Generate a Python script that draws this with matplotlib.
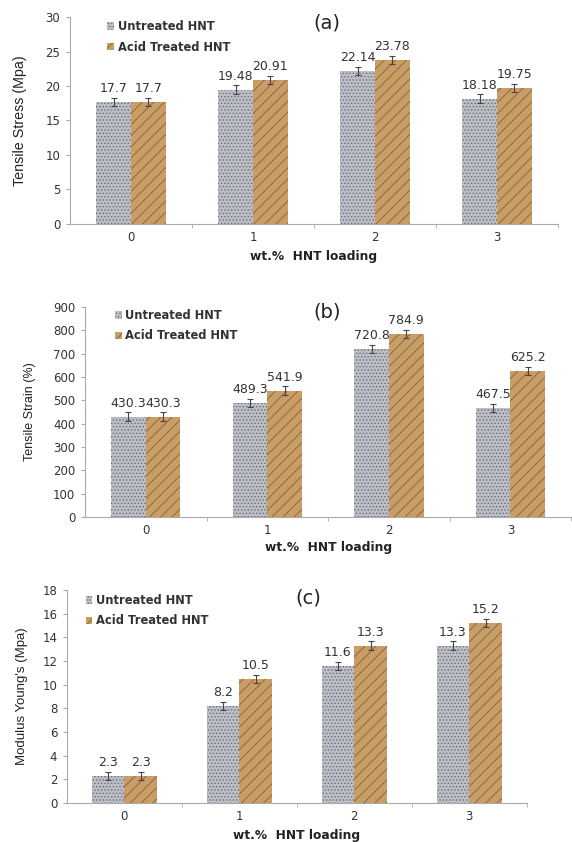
import matplotlib
matplotlib.use("Agg")
import matplotlib.pyplot as plt
from matplotlib.patches import Patch
import numpy as np

categories = ["0", "1", "2", "3"]
series_names = ["Untreated HNT", "Acid Treated HNT"]

stress_untreated = [17.7, 19.48, 22.14, 18.18]
stress_acid = [17.7, 20.91, 23.78, 19.75]
stress_err_untreated = [0.6, 0.6, 0.6, 0.6]
stress_err_acid = [0.6, 0.6, 0.6, 0.6]

strain_untreated = [430.3, 489.3, 720.8, 467.5]
strain_acid = [430.3, 541.9, 784.9, 625.2]
strain_err_untreated = [18, 18, 18, 18]
strain_err_acid = [18, 18, 18, 18]

modulus_untreated = [2.3, 8.2, 11.6, 13.3]
modulus_acid = [2.3, 10.5, 13.3, 15.2]
modulus_err_untreated = [0.35, 0.35, 0.35, 0.35]
modulus_err_acid = [0.35, 0.35, 0.35, 0.35]

plt.rcParams['hatch.linewidth'] = 0.6

GRAY_FC = '#bcbfc5'
GRAY_HC = '#6a6d75'
BROWN_FC = '#c99d66'
BROWN_HC = '#85603a'

panels = [
    dict(pos=[0.1224, 0.734, 0.853, 0.2458], u=stress_untreated, a=stress_acid,
         eu=stress_err_untreated, ea=stress_err_acid, ylim=30, step=5,
         ylabel="Tensile Stress (Mpa)", title="(a)", tpos=(0.527, 0.972),
         leg=(0.055, 1.035), fmt="{:g}", ylfs=10.3, ylpad=13, xly=-0.158),
    dict(pos=[0.1486, 0.386, 0.85, 0.2494], u=strain_untreated, a=strain_acid,
         eu=strain_err_untreated, ea=strain_err_acid, ylim=900, step=100,
         ylabel="Tensile Strain (%)", title="(b)", tpos=(0.498, 0.975),
         leg=(0.04, 1.04), fmt="{:.1f}", ylfs=9, ylpad=12, xly=-0.145),
    dict(pos=[0.117, 0.0463, 0.804, 0.253], u=modulus_untreated, a=modulus_acid,
         eu=modulus_err_untreated, ea=modulus_err_acid, ylim=18, step=2,
         ylabel="Modulus Young's (Mpa)", title="(c)", tpos=(0.524, 0.962),
         leg=(0.018, 1.03), fmt="{:g}", ylfs=9.5, ylpad=10, xly=-0.154),
]

fig = plt.figure(figsize=(5.72, 8.42), dpi=100)
x = np.arange(len(categories))
w = 0.285

for p in panels:
    ax = fig.add_axes(p['pos'])
    ax.bar(x - w / 2, p['u'], w, facecolor=GRAY_FC, edgecolor=GRAY_HC,
           hatch='.....', linewidth=0)
    ax.bar(x + w / 2, p['a'], w, facecolor=BROWN_FC, edgecolor=BROWN_HC,
           hatch='///', linewidth=0)
    ax.errorbar(x - w / 2, p['u'], yerr=p['eu'], fmt='none', ecolor='#444444',
                elinewidth=0.8, capsize=2.5, capthick=0.8)
    ax.errorbar(x + w / 2, p['a'], yerr=p['ea'], fmt='none', ecolor='#444444',
                elinewidth=0.8, capsize=2.5, capthick=0.8)
    for xi, v, e in zip(x - w / 2, p['u'], p['eu']):
        ax.annotate(p['fmt'].format(v), (xi, v + e), xytext=(0, 2),
                    textcoords='offset points', ha='center', va='bottom',
                    fontsize=9, color='#333333', family='DejaVu Sans')
    for xi, v, e in zip(x + w / 2, p['a'], p['ea']):
        ax.annotate(p['fmt'].format(v), (xi, v + e), xytext=(0, 2),
                    textcoords='offset points', ha='center', va='bottom',
                    fontsize=9, color='#333333', family='DejaVu Sans')
    ax.set_xlim(-0.5, len(categories) - 0.5)
    ax.set_ylim(0, p['ylim'])
    ax.set_yticks(np.arange(0, p['ylim'] + p['step'] / 2, p['step']))
    ax.set_xticks(x)
    ax.set_xticklabels(categories)
    ax.set_xticks(np.arange(0.5, len(categories), 1.0), minor=True)
    ax.tick_params(axis='x', which='major', length=0, pad=5, labelsize=8.5,
                   labelcolor='#333333')
    ax.tick_params(axis='x', which='minor', length=3, color='#aaaaaa', direction='out')
    ax.tick_params(axis='y', length=3, color='#aaaaaa', labelsize=8.5,
                   labelcolor='#333333', pad=4)
    for lbl in ax.get_xticklabels() + ax.get_yticklabels():
        lbl.set_family('DejaVu Sans')
    for s in ['top', 'right']:
        ax.spines[s].set_visible(False)
    for s in ['left', 'bottom']:
        ax.spines[s].set_color('#aaaaaa')
        ax.spines[s].set_linewidth(0.8)
    ax.set_ylabel(p['ylabel'], fontsize=p['ylfs'], family='Liberation Sans',
                  color='#222222', labelpad=p['ylpad'])
    ax.set_xlabel("wt.%  HNT loading", fontsize=8.8, fontweight='bold',
                  family='DejaVu Sans', color='#222222', va='center')
    ax.xaxis.set_label_coords(0.5, p['xly'])
    ax.text(p['tpos'][0], p['tpos'][1], p['title'], transform=ax.transAxes,
            ha='center', va='center', fontsize=14, color='#222222',
            family='DejaVu Sans')
    handles = [Patch(facecolor=GRAY_FC, edgecolor=GRAY_HC, hatch='.....', linewidth=0),
               Patch(facecolor=BROWN_FC, edgecolor=BROWN_HC, hatch='///', linewidth=0)]
    ax.legend(handles, series_names, loc='upper left', bbox_to_anchor=p['leg'],
              frameon=False, handlelength=0.6, handleheight=0.6, handletextpad=0.3,
              labelspacing=0.65, prop=dict(size=8.3, weight='bold', family='DejaVu Sans'))
    for t in ax.get_legend().get_texts():
        t.set_color('#333333')

fig.savefig("out.png", dpi=100)
